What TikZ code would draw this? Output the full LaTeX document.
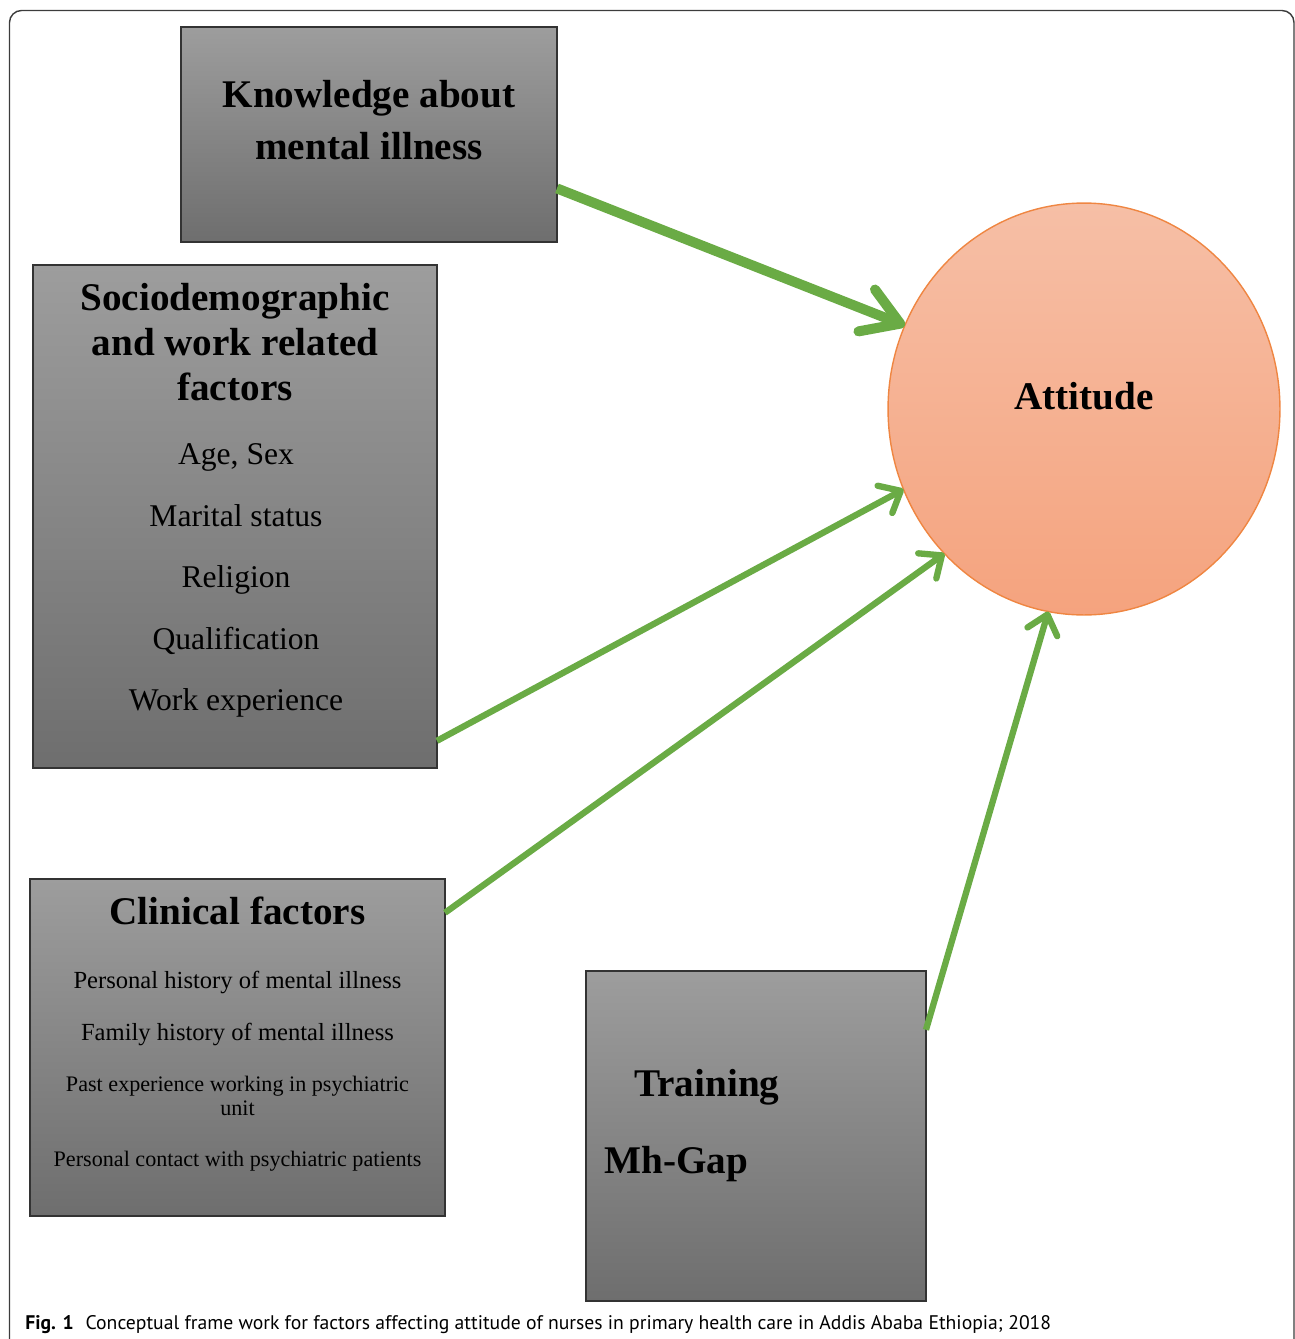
\documentclass[tikz,border=0pt]{standalone}
\usepackage{fontspec}
\setmainfont{Liberation Serif}
\newfontfamily\captionfont{PT Sans}
\usetikzlibrary{shapes, arrows.meta}

\definecolor{boxtop}{RGB}{157,157,157}
\definecolor{boxbottom}{RGB}{110,110,110}
\definecolor{attitop}{RGB}{246,191,166}
\definecolor{attibottom}{RGB}{245,163,126}
\definecolor{attiline}{RGB}{239,134,66}
\definecolor{arrowgreen}{RGB}{106,171,69}
\definecolor{framegrey}{RGB}{60,60,60}

\tikzset{
	greybox/.style={draw=black!80, line width=0.8pt, top color=boxtop, bottom color=boxbottom, inner sep=0pt, outer sep=0pt},
	boxtitle/.style={font=\fontsize{22.3}{25.5}\selectfont\bfseries, align=center, inner sep=0pt, anchor=north},
	boxitem/.style={align=center, inner sep=0pt, anchor=north},
	arrowline/.style={draw=arrowgreen, line width=3.6pt, -{Straight Barb[round, length=0.36cm, width=0.62cm]}},
}

\begin{document}
\begin{tikzpicture}[x=0.02cm, y=-0.02cm]
	\useasboundingbox (0,0) rectangle (1295,1339);
	% frame of the figure
	\draw[framegrey, line width=0.8pt, rounded corners=0.24cm] (9.5,1360) -- (9.5,10.5) -- (1294,10.5) -- (1294,1360);

	% boxes
	\node[greybox, minimum width=7.52cm, minimum height=4.3cm] (know) at (369,134.5) {};
	\node[boxtitle, font=\fontsize{22.3}{29.5}\selectfont\bfseries] (knowtxt) at (369,80) {Knowledge about\\mental illness};

	\node[greybox, minimum width=8.08cm, minimum height=10.06cm] (socio) at (235,516.5) {};
	\node[boxtitle] (sociotxt) at (235,283) {Sociodemographic\\and work related\\factors};
	\node[boxitem, font=\fontsize{18}{35}\selectfont] (socioitems) at (236,443.5)
		{Age, Sex\\Marital status\\Religion\\Qualification\\Work experience};

	\node[greybox, minimum width=8.3cm, minimum height=6.74cm] (clin) at (237.5,1047.5) {};
	\node[boxtitle] (clintxt) at (237.5,897) {Clinical factors};
	\node[boxitem, font=\fontsize{14}{13.6}\selectfont] (clinitems) at (237.5,970.5)
		{Personal history of mental illness\\[16.4pt]
		 Family history of mental illness};
	\node[boxitem, font=\fontsize{12.6}{13.6}\selectfont] (clinitemsb) at (237.5,1076)
		{Past experience working in psychiatric\\unit\\[15.3pt]
		 Personal contact with psychiatric patients};

	\node[greybox, minimum width=6.8cm, minimum height=6.6cm] (train) at (756,1136) {};
	\node[boxtitle, anchor=north west, align=left, font=\fontsize{22.3}{43.7}\selectfont\bfseries] (traintxt) at (604,1069)
		{\hspace*{17pt}Training\\Mh-Gap};

	% outcome
	\node[ellipse, draw=attiline, line width=0.8pt, top color=attitop, bottom color=attibottom,
		minimum width=7.84cm, minimum height=8.24cm, inner sep=0pt, outer sep=0pt] (att) at (1084,409) {};
	\node[font=\fontsize{22.3}{25.5}\selectfont\bfseries, inner sep=0pt] (atttxt) at (1084,396) {Attitude};

	% arrows
	\draw[arrowline, line width=5.7pt, -{Straight Barb[round, length=0.72cm, width=0.9cm]}] (know.-16.4) -- (att.155);
	\draw[arrowline] (socio.-48.5) -- (att.204);
	\draw[arrowline] (clin.33) -- (att.226);
	\draw[arrowline] (train.32.7) -- (att.260);

	% caption
	\node[anchor=base west, inner sep=0pt, font=\captionfont\fontsize{11.2}{13}\selectfont] (caption) at (25,1329)
		{\textbf{Fig. 1}\hspace{0.6em}Conceptual frame work for factors affecting attitude of nurses in primary health care in Addis Ababa Ethiopia; 2018};
\end{tikzpicture}
\end{document}
